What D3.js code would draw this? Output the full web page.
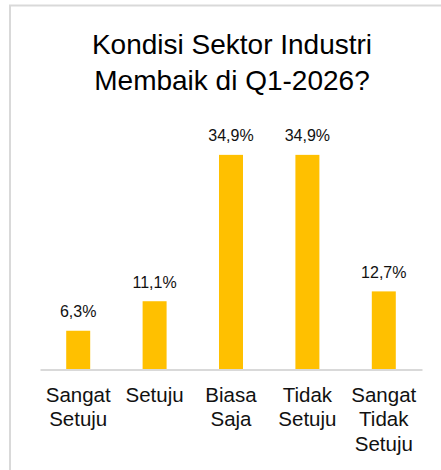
<!DOCTYPE html>
<html>
<head>
<meta charset="utf-8">
<script src="https://cdn.jsdelivr.net/npm/d3@7"></script>
<style>
  html, body { margin: 0; padding: 0; background: #fff; }
  svg { display: block; }
  text { font-family: "Liberation Sans", Arial, sans-serif; }
</style>
</head>
<body>
<script>
const titleLines = ["Kondisi Sektor Industri", "Membaik di Q1-2026?"];
const categories = ["Sangat Setuju", "Setuju", "Biasa Saja", "Tidak Setuju", "Sangat Tidak Setuju"];
const values = [6.3, 11.1, 34.9, 34.9, 12.7];
const valueLabels = ["6,3%", "11,1%", "34,9%", "34,9%", "12,7%"];

const W = 441, H = 470;
const svg = d3.select("body").append("svg").attr("width", W).attr("height", H);

// frame
svg.append("rect")
  .attr("x", 10).attr("y", 5.5)
  .attr("width", 600).attr("height", 600)
  .attr("fill", "none").attr("stroke", "#d9d9d9").attr("stroke-width", 2);

// title
svg.append("text")
  .attr("text-anchor", "middle")
  .attr("font-size", 28)
  .attr("fill", "#000")
  .selectAll("tspan").data(titleLines).join("tspan")
  .attr("x", 232)
  .attr("y", (d, i) => 54 + i * 36)
  .text(d => d);

const x = d3.scaleBand().domain(categories).range([40, 422])
  .paddingInner(0.686).paddingOuter(0.343);
const y = d3.scaleLinear().domain([0, 40]).range([369.5, 123.5]);

const data = categories.map((c, i) => ({ c, v: values[i], l: valueLabels[i] }));

svg.selectAll("rect.bar").data(data).join("rect")
  .attr("class", "bar")
  .attr("x", d => x(d.c))
  .attr("width", x.bandwidth())
  .attr("y", d => y(d.v))
  .attr("height", d => y(0) - y(d.v))
  .attr("fill", "#FFC000");

svg.selectAll("text.val").data(data).join("text")
  .attr("class", "val")
  .attr("x", d => x(d.c) + x.bandwidth() / 2)
  .attr("y", d => y(d.v) - 13.5)
  .attr("text-anchor", "middle")
  .attr("font-size", 16)
  .attr("fill", "#111")
  .text(d => d.l);

// axis
const axis = svg.append("g")
  .attr("transform", `translate(0,${y(0)})`)
  .call(d3.axisBottom(x).tickSize(0).tickSizeOuter(0).tickFormat(""));
axis.select(".domain").attr("stroke", "#d9d9d9").attr("stroke-width", 2);
axis.selectAll(".tick text").remove();

svg.selectAll("text.cat").data(categories).join("text")
  .attr("class", "cat")
  .attr("text-anchor", "middle")
  .attr("font-size", 20.5)
  .attr("fill", "#111")
  .each(function (d) {
    const cx = x(d) + x.bandwidth() / 2;
    d3.select(this).selectAll("tspan").data(d.split(" ")).join("tspan")
      .attr("x", cx)
      .attr("y", (w, i) => 401.5 + i * 24.5)
      .text(w => w);
  });
</script>
</body>
</html>
